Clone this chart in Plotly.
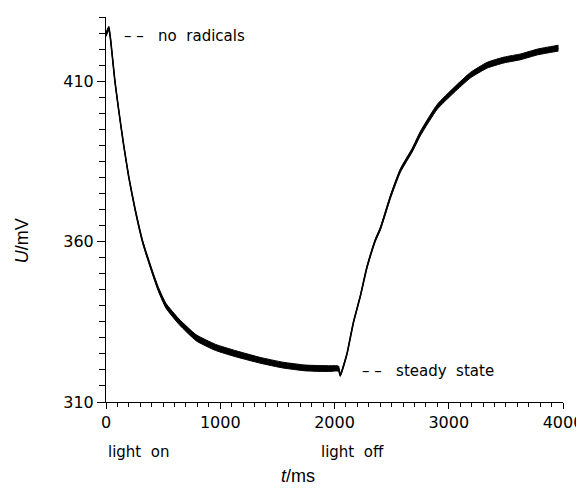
import plotly.graph_objects as go

t_ms = [0, 25, 40, 78, 115, 155, 200, 255, 320, 410, 460, 525, 640, 790, 960,
        1140, 1350, 1550, 1750, 1950, 2035, 2050, 2109, 2138, 2167, 2226, 2284,
        2357, 2401, 2489, 2577, 2680, 2752, 2899, 3045, 3191, 3338, 3484, 3630,
        3777, 3960]
u_mv = [424.5, 426.5, 423, 410, 400, 390, 380, 370, 360, 350, 345, 340, 335, 330, 327,
        325, 323, 321.5, 320.6, 320.4, 320.4, 318.3, 325, 330, 335, 343, 352,
        360.4, 364, 373.9, 382.2, 388.5, 393.7, 402, 407.2, 411.9, 415, 416.6, 417.6,
        419.1, 420.3]
noise = [0.6, 0.6, 0.3, 0.2, 0.2, 0.25, 0.3, 0.35, 0.4, 0.55, 0.65, 0.75, 0.85, 0.95, 0.95,
         0.95, 0.9, 0.9, 0.9, 0.9, 0.8, 0.3, 0.3, 0.3, 0.3, 0.3, 0.35,
         0.4, 0.45, 0.5, 0.55, 0.6, 0.7, 0.75, 0.8, 0.85, 0.9, 0.9, 0.9,
         0.9, 0.9]

y_ticks = [310, 360, 410]
x_ticks = [0, 1000, 2000, 3000, 4000]

lo = [u - n for u, n in zip(u_mv, noise)]
hi = [u + n for u, n in zip(u_mv, noise)]

trace_line = dict(color='black', width=1, shape='spline', smoothing=0.5)

fig = go.Figure()
fig.add_trace(go.Scatter(x=t_ms, y=lo, mode='lines', line=trace_line,
                         showlegend=False, hoverinfo='skip'))
fig.add_trace(go.Scatter(x=t_ms, y=hi, mode='lines', line=trace_line,
                         fill='tonexty', fillcolor='black', showlegend=False, hoverinfo='skip'))
fig.add_trace(go.Scatter(x=t_ms, y=u_mv, mode='lines', showlegend=False,
                         line=dict(color='black', width=1.6, shape='spline', smoothing=0.5)))

label_font = dict(family='DejaVu Sans', size=15, color='black')

# notes next to the trace (data coords)
for x, y, txt in [(136, 424, '– –   no  radicals'), (2219, 319.8, '– –   steady  state')]:
    fig.add_annotation(x=x, y=y, text=txt, showarrow=False, xanchor='left',
                       yanchor='middle', font=label_font)

# notes below the axis
for x, txt in [(4, 'light  on'), (1860, 'light  off')]:
    fig.add_annotation(x=x, yref='paper', y=-0.13, text=txt, showarrow=False,
                       xanchor='left', yanchor='middle', font=label_font)

fig.add_annotation(xref='paper', yref='paper', x=-0.184, y=0.42, text='<i>U</i>/mV',
                   textangle=-90, showarrow=False, xanchor='center', yanchor='middle',
                   font=dict(family='Liberation Sans', size=18, color='black'))
fig.add_annotation(xref='paper', yref='paper', x=0.42, y=-0.192, text='<i>t</i>/ms',
                   showarrow=False, xanchor='center', yanchor='middle',
                   font=dict(family='Liberation Sans', size=18, color='black'))

# page body has an 8px margin, so size and margins are trimmed by that much
fig.update_layout(
    width=576, height=480,
    margin=dict(l=98, r=21, t=9, b=86),
    paper_bgcolor='white', plot_bgcolor='white',
    font=dict(family='DejaVu Sans', size=16, color='black'),
    xaxis=dict(range=[0, 4000], tickvals=x_ticks, showline=True, linecolor='black',
               linewidth=1, ticks='outside', ticklen=6, tickcolor='black',
               showgrid=False, zeroline=False, automargin=False,
               minor=dict(dtick=100, ticks='outside', ticklen=4, tickcolor='black')),
    yaxis=dict(range=[310, 430], tickvals=y_ticks, showline=True, linecolor='black',
               linewidth=1, ticks='outside', ticklen=8, tickcolor='black',
               showgrid=False, zeroline=False, automargin=False,
               minor=dict(dtick=5, ticks='outside', ticklen=6, tickcolor='black')),
)

fig.write_html("out.html")
